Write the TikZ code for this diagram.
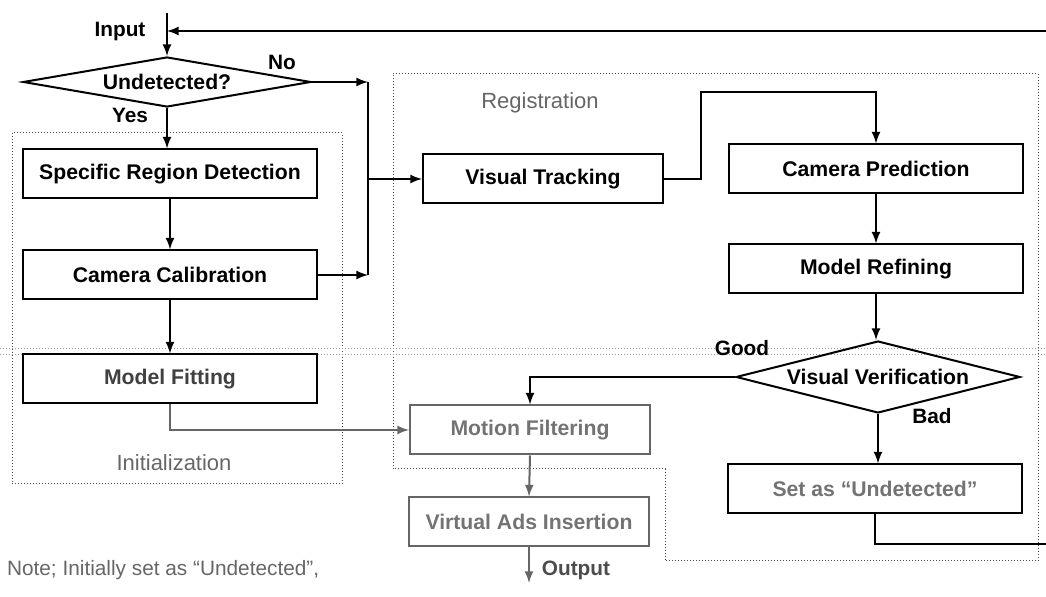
\documentclass[tikz,border=0pt]{standalone}
\usepackage{fontspec}
\setmainfont{Liberation Sans}
\usetikzlibrary{shapes.geometric}
\begin{document}
\begin{tikzpicture}[x=0.5pt, y=-0.5pt, >=latex]
\tikzstyle{stepbox}  = [rectangle, text centered, draw=black, line width=1pt, minimum height=24.5pt, minimum width=147pt, font=\fontsize{10.6}{12}\selectfont\bfseries]
\tikzstyle{smallbox} = [stepbox, minimum width=120pt]
\tikzstyle{decide}   = [diamond, draw=black, line width=1pt, inner sep=0pt, aspect=4, font=\fontsize{10.6}{12}\selectfont\bfseries]
\tikzstyle{lbl}      = [font=\fontsize{10.4}{12}\selectfont\bfseries]
\tikzstyle{lblthin}  = [font=\fontsize{11}{13}\selectfont, text=black!60]
\tikzstyle{region}   = [draw=black!70, line width=0.5pt, densely dotted]
\tikzstyle{link}     = [line width=1pt, black]
\useasboundingbox (0,0) rectangle (1046,597);
\draw[region] (12,133) rectangle (342,484);
\draw[region] (393,74) -- (1038,74) -- (1038,561) -- (665,561) -- (665,469) -- (393,469) -- cycle;
\draw[region, black!40] (0,349) -- (1046,349);
\draw[region, black!40] (0,355) -- (1046,355);
\node[decide, minimum width=144pt, minimum height=25pt] at (167, 82) (d_0) {Undetected?};
\node[stepbox] at (170, 174) (i_s_0) {Specific Region Detection};
\node[stepbox] at (170, 275) (i_s_1) {Camera Calibration};
\node[stepbox, text=black!75] at (170, 379) (i_s_2) {Model Fitting};
\node[smallbox] at (543, 179) (r_s_0) {Visual Tracking};
\node[stepbox] at (876, 169) (r_s_1) {Camera Prediction};
\node[stepbox] at (876, 269) (r_s_2) {Model Refining};
\node[decide, minimum width=142pt, minimum height=36pt] at (878, 377) (d_1) {Visual Verification};
\node[stepbox, text=black!55] at (875, 489) (r_s_3) {Set as “Undetected”};
\node[smallbox, draw=black!60, text=black!55] at (530, 430) (r_s_4) {Motion Filtering};
\node[smallbox, draw=black!60, text=black!55] at (529, 522) (o_s_0) {Virtual Ads Insertion};
\node[lbl] at (120, 32) (l_in) {Input};
\node[lbl] at (282, 62) (l_no) {No};
\node[lbl] at (130, 115) (l_yes) {Yes};
\node[lbl] at (742, 348) (l_good) {Good};
\node[lbl] at (932, 416) (l_bad) {Bad};
\node[lbl, text=black!70] at (576, 570) (l_out) {Output};
\node[lblthin] at (540, 103) (l_reg) {Registration};
\node[lblthin] at (174, 463) (l_init) {Initialization};
\node[lblthin, anchor=west, font=\fontsize{10.4}{12}\selectfont] at (0, 570) (l_note) {Note; Initially set as “Undetected”,};
\coordinate (in_0) at (167, 13);
\coordinate (in_1) at (167, 31);
\coordinate (fb_0) at (1046, 31);
\coordinate (fb_1) at (1046, 544);
\coordinate (bus_0) at (368, 82);
\coordinate (bus_1) at (368, 275);
\coordinate (turn_0) at (701, 92);
\coordinate (out_0) at (529, 583);
\draw[->, link] (in_0) -- (d_0.north);
\draw[->, link] (fb_0) -- (in_1);
\draw[->, link] (d_0.east) -- (bus_0);
\draw[link] (bus_0) -- (bus_1);
\draw[->, link] (i_s_1.east) -- (bus_1);
\draw[->, link] (bus_0 |- r_s_0.west) -- (r_s_0.west);
\draw[->, link] (d_0.south) -- (d_0.south |- i_s_0.north);
\draw[->, link] (i_s_0.south) -- (i_s_1.north);
\draw[->, link] (i_s_1.south) -- (i_s_2.north);
\draw[->, link, black!60] (i_s_2.south) |- (r_s_4.west);
\draw[->, link] (r_s_0.east) -| (turn_0) -| (r_s_1.north);
\draw[->, link] (r_s_1.south) -- (r_s_2.north);
\draw[->, link] (r_s_2.south) -- (r_s_2.south |- d_1.north);
\draw[->, link] (d_1.west) -| (r_s_4.north);
\draw[->, link] (d_1.south) -- (d_1.south |- r_s_3.north);
\draw[link] (r_s_3.south) |- (fb_1);
\draw[->, link, black!60] (r_s_4.south) -- (o_s_0.north);
\draw[->, link, black!60] (o_s_0.south) -- (out_0);
\end{tikzpicture}
\end{document}
